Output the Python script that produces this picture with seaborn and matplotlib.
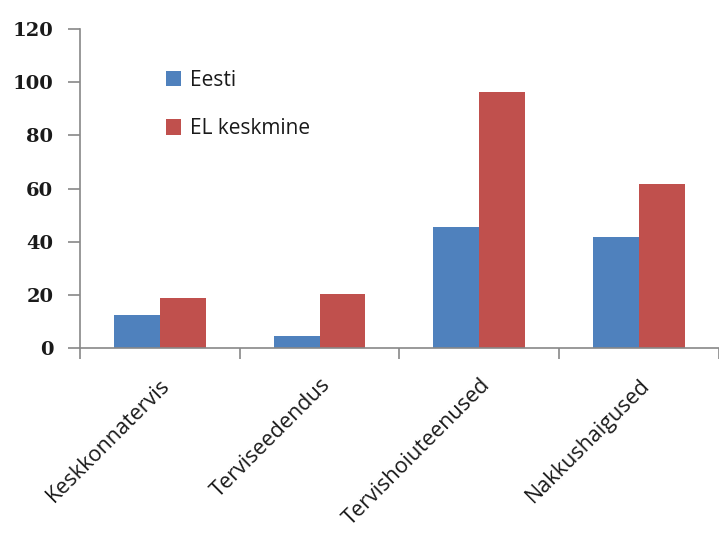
import pandas as pd
import numpy as np
import matplotlib
matplotlib.use("Agg")
import matplotlib.pyplot as plt
import seaborn as sns
from matplotlib.ticker import FixedLocator

categories = ["Keskkonnatervis", "Terviseedendus", "Tervishoiuteenused", "Nakkushaigused"]
eesti = [12.3, 4.4, 45.4, 41.8]
el_keskmine = [18.8, 20.2, 96.3, 61.7]
series_names = ["Eesti", "EL keskmine"]
colors = ["#4F81BD", "#C0504D"]

df = pd.DataFrame({
    "Kategooria": categories * 2,
    "Väärtus": eesti + el_keskmine,
    "Seeria": [series_names[0]] * 4 + [series_names[1]] * 4,
})

sns.set_style("white")
plt.rcParams["font.family"] = ["Open Sans", "DejaVu Sans"]

fig = plt.figure(figsize=(7.19, 5.38), dpi=100)
ax = fig.add_axes([0.111, 0.353, 0.889, 0.593])

sns.barplot(data=df, x="Kategooria", y="Väärtus", hue="Seeria", palette=colors,
            width=0.575, saturation=1, linewidth=0, ax=ax, legend=True)

ax.set_xlim(-0.5, 3.5)
ax.set_ylim(0, 120)
ax.set_yticks(np.arange(0, 121, 20))
ax.set_xlabel("")
ax.set_ylabel("")

for s in ["top", "right"]:
    ax.spines[s].set_visible(False)
for s in ["left", "bottom"]:
    ax.spines[s].set_color("#888888")
    ax.spines[s].set_linewidth(1.2)

ax.tick_params(axis="y", left=True, direction="out", length=8.6, width=1.2, color="#888888",
               pad=10.5, labelsize=14)
for lab in ax.get_yticklabels():
    lab.set_family(["DejaVu Serif"])
    lab.set_fontweight("bold")
    lab.set_color("#1a1a1a")

ax.tick_params(axis="x", which="major", length=0, pad=19)
ax.xaxis.set_minor_locator(FixedLocator([-0.5, 0.5, 1.5, 2.5, 3.5]))
ax.tick_params(axis="x", which="minor", bottom=True, direction="out", length=8, width=1.2,
               color="#888888")
ax.set_xticks(range(len(categories)))
ax.set_xticklabels(categories, rotation=45, ha="right", rotation_mode="anchor", fontsize=15.5,
                   color="#1a1a1a")

ax.legend(loc="upper left", bbox_to_anchor=(0.105, 0.93), frameon=False, fontsize=15,
          handlelength=0.75, handleheight=0.75, handletextpad=0.4, labelspacing=1.3,
          labelcolor="#1a1a1a")

fig.savefig("out.png", dpi=100)
